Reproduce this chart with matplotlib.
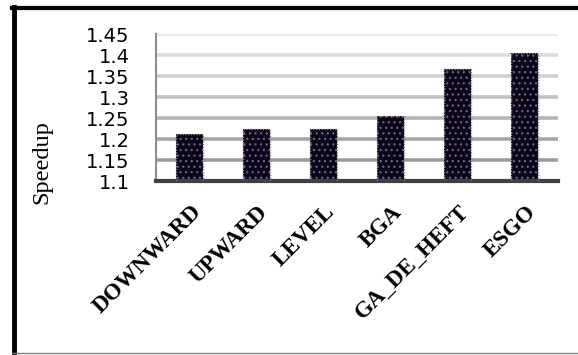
import matplotlib.pyplot as plt
from matplotlib.lines import Line2D
from matplotlib.transforms import ScaledTranslation

methods = ["DOWNWARD", "UPWARD", "LEVEL", "BGA", "GA_DE_HEFT", "ESGO"]
speedup = [1.212, 1.225, 1.225, 1.256, 1.368, 1.406]
yticks = [1.1, 1.15, 1.2, 1.25, 1.3, 1.35, 1.4, 1.45]
ytick_labels = ["1.1", "1.15", "1.2", "1.25", "1.3", "1.35", "1.4", "1.45"]

plt.rcParams["hatch.linewidth"] = 0.9

fig = plt.figure(figsize=(5.78, 3.55), dpi=100)
ax = fig.add_axes([0.27, 0.49, 0.695, 0.414])

# gridlines get lighter towards the top
grid_cols = ["#9c9c9c", "#a6a6a6", "#b4b4b4", "#c2c2c2", "#d0d0d0", "#dcdcdc", "#e6e6e6"]
for y, c in zip(yticks[1:], grid_cols):
    ax.axhline(y, color=c, lw=2.6, zorder=0)

x = range(len(methods))
ax.bar(x, speedup, width=0.41, color="#0a0612", edgecolor="#7458b0",
       hatch="...", linewidth=0, zorder=2)
ax.bar(x, speedup, width=0.41, fill=False, edgecolor="#8a8a8a", linewidth=1.0,
       linestyle=(0, (1, 1)), zorder=3)

ax.set_ylim(1.1, 1.45)
ax.set_xlim(-0.5, len(methods) - 0.5)
ax.set_yticks(yticks)
ax.set_yticklabels(ytick_labels, family="DejaVu Sans", fontsize=14)
ax.tick_params(axis="y", length=0, pad=19)
ax.tick_params(axis="x", length=0, pad=20)
ax.set_xticks(list(x))
ax.set_xticklabels(methods, rotation=45, ha="right", va="center",
                   rotation_mode="anchor", family="Liberation Serif",
                   fontweight="bold", fontsize=16.5)
# nudge the slanted labels so their ends sit under the bars
shift = ScaledTranslation(6 / 72, 0, fig.dpi_scale_trans)
for lbl in ax.get_xticklabels():
    lbl.set_transform(lbl.get_transform() + shift)

ax.set_ylabel("Speedup", family="Liberation Serif", fontsize=17.5, va="center")
ax.yaxis.set_label_coords(-0.284, 0.13)

for side in ["top", "right"]:
    ax.spines[side].set_visible(False)
ax.spines["left"].set_color("#8c8c8c")
ax.spines["left"].set_linewidth(1.5)
ax.spines["bottom"].set_color("#404040")
ax.spines["bottom"].set_linewidth(3)

# frame around the figure
fig.add_artist(Line2D([0.024, 0.024], [0.006, 0.98], color="black", lw=3.5,
                      transform=fig.transFigure))
fig.add_artist(Line2D([0.021, 1.0], [0.978, 0.978], color="black", lw=3,
                      transform=fig.transFigure))
fig.add_artist(Line2D([0.021, 1.0], [0.006, 0.006], color="#808080", lw=1,
                      transform=fig.transFigure))

fig.savefig("out.png", dpi=100)
